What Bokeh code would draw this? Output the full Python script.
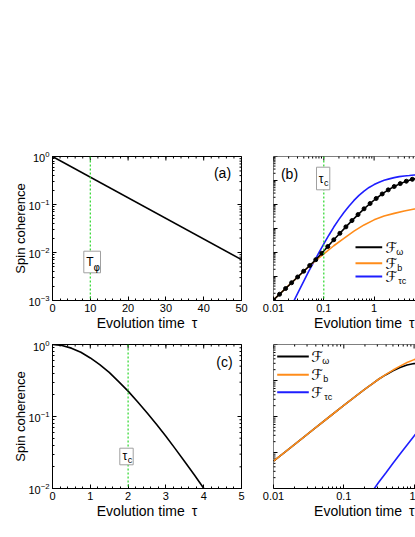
import math
from bokeh.plotting import figure
from bokeh.layouts import column, row
from bokeh.models import (FixedTicker, Span, BoxAnnotation, Label, Title,
                          CustomJSTickFormatter, Range1d)
from bokeh.embed import file_html
from bokeh.resources import INLINE

# ---------------- data ----------------
# (a) exponential decay (straight line on the log axis)
a_tau = [0.0, 50.0]
a_coh = [1.0, 0.0071]
a_T_phi = 10.0

# (c) non-exponential decay
c_tau = [0.0, 0.25, 0.5, 0.75, 1.0, 1.25, 1.5, 1.75, 2.0, 2.25, 2.5, 2.75, 3.0,
         3.25, 3.5, 3.75, 4.0, 4.1]
c_coh = [1.0, 0.97, 0.89, 0.78, 0.65, 0.525, 0.41, 0.305, 0.225, 0.16, 0.113,
         0.078, 0.053, 0.0355, 0.0235, 0.0155, 0.0101, 0.0085]
c_tau_c = 2.0

# (b) three contributions F_omega (black, dotted), F_b (orange), F_tc (blue)
b_tau_c = 0.1
b_omega_tau = [0.0100, 0.0132, 0.0174, 0.0229, 0.0302, 0.0398, 0.0525, 0.0692,
               0.0912, 0.120, 0.158, 0.209, 0.275, 0.363, 0.479, 0.631, 0.832,
               1.10, 1.45, 1.91, 2.51, 3.31, 4.37, 5.75, 7.59]
b_omega_F = [1.05e-6, 1.82e-6, 3.16e-6, 5.50e-6, 9.55e-6, 1.66e-5, 2.88e-5,
             5.01e-5, 9.33e-5, 1.78e-4, 3.39e-4, 6.31e-4, 1.17e-3, 2.14e-3,
             3.80e-3, 6.61e-3, 1.10e-2, 1.78e-2, 2.75e-2, 4.07e-2, 5.62e-2,
             7.41e-2, 9.33e-2, 0.112, 0.129]
b_b_tau = [0.01, 0.0158, 0.0251, 0.0398, 0.0631, 0.1, 0.158, 0.251, 0.398,
           0.631, 1.0, 1.58, 2.51, 3.98, 6.31, 7.94]
b_b_F = [1.05e-6, 2.63e-6, 6.61e-6, 1.62e-5, 3.98e-5, 8.71e-5, 1.91e-4, 3.89e-4,
         7.76e-4, 1.41e-3, 2.29e-3, 3.31e-3, 4.27e-3, 5.37e-3, 6.46e-3, 6.92e-3]
b_tc_tau = [0.0251, 0.0316, 0.0398, 0.0501, 0.0631, 0.0794, 0.1, 0.126, 0.158,
            0.200, 0.251, 0.316, 0.398, 0.501, 0.631, 0.794, 1.0, 1.26, 1.58,
            2.0, 2.51, 3.16, 3.98, 5.01, 6.31, 7.94]
b_tc_F = [9.1e-7, 2.40e-6, 6.31e-6, 1.62e-5, 3.98e-5, 9.55e-5, 2.29e-4, 5.25e-4,
          1.15e-3, 2.40e-3, 4.68e-3, 8.51e-3, 1.48e-2, 2.40e-2, 3.63e-2, 5.13e-2,
          6.76e-2, 8.51e-2, 0.102, 0.117, 0.132, 0.145, 0.155, 0.162, 0.170, 0.174]

# (d)
d_tau = [0.01, 0.0158, 0.0251, 0.0398, 0.0631, 0.1, 0.158, 0.2, 0.251, 0.316,
         0.398, 0.501, 0.631, 0.794, 1.0, 1.12]
d_b_F = [5.75e-4, 1.17e-3, 2.40e-3, 4.90e-3, 1.0e-2, 2.04e-2, 4.07e-2, 5.75e-2,
         7.94e-2, 0.110, 0.148, 0.195, 0.251, 0.316, 0.380, 0.407]
d_omega_F = [5.75e-4, 1.17e-3, 2.40e-3, 4.90e-3, 1.0e-2, 2.04e-2, 4.07e-2, 5.75e-2,
             7.94e-2, 0.110, 0.145, 0.186, 0.229, 0.269, 0.295, 0.302]
d_tc_tau = [0.251, 0.316, 0.398, 0.501, 0.631, 0.794, 1.0, 1.12]
d_tc_F = [8.1e-5, 1.51e-4, 2.75e-4, 5.01e-4, 9.12e-4, 1.62e-3, 2.88e-3, 3.80e-3]

# tick values
a_xticks = [0, 10, 20, 30, 40, 50]
c_xticks = [0, 1, 2, 3, 4, 5]
log_xticks = [0.01, 0.1, 1, 10]
legend_names = ["ω", "b", "τc"]
x_title = "Evolution time\u2002τ"
y_title = "Spin coherence"

# ---------------- layout / style ----------------
FONT = "Liberation Sans"
TICK_PX = "11px"
XTITLE_PX = "14px"
YTITLE_PX = "13px"
PANEL_PX = "14px"
BLACK = "black"
ORANGE = "#ff8c1a"
BLUE = "#1e1eff"
GREEN = "#2ad62a"
BOXGRAY = "#a0a0a0"

# frames in page pixels: left, top, right, bottom
FRAMES = {"a": (52, 156, 241, 300), "b": (273, 156, 415, 300),
          "c": (52, 344, 241, 488), "d": (273, 344, 415, 488)}
DEC_B = 50.3   # px per decade, panel (b)
DEC_D = 70.3   # px per decade, panel (d)
RANGES = {
    "a": ((0, 50), (1e-3, 1.0), False, True),
    "b": ((0.01, 10 ** (-2 + (FRAMES["b"][2] - FRAMES["b"][0]) / DEC_B)), (1e-6, 1.0), True, True),
    "c": ((0, 5), (1e-2, 1.0), False, True),
    "d": ((0.01, 10 ** (-2 + (FRAMES["d"][2] - FRAMES["d"][0]) / DEC_D)), (1e-4, 1.0), True, True),
}


def interp(f, lo, hi, lg):
    if lg:
        return 10 ** (math.log10(lo) + f * (math.log10(hi) - math.log10(lo)))
    return lo + f * (hi - lo)


def data_at(key, px, py):
    l, t, r, b = FRAMES[key]
    xr, yr, xlog, ylog = RANGES[key]
    return (interp((px - l) / (r - l), xr[0], xr[1], xlog),
            interp((b - py) / (b - t), yr[0], yr[1], ylog))


def decade_minors(e0, e1):
    return [k * 10.0 ** e for e in range(e0, e1) for k in range(2, 10)]


def style(ax):
    ax.axis_line_color = BLACK
    ax.axis_line_width = 1
    ax.major_tick_in = 4
    ax.major_tick_out = 0
    ax.minor_tick_in = 2
    ax.minor_tick_out = 0
    ax.major_tick_line_color = BLACK
    ax.minor_tick_line_color = BLACK
    ax.major_label_text_font = FONT
    ax.major_label_text_color = BLACK
    ax.major_label_text_font_size = TICK_PX
    ax.major_label_standoff = 3


def make_fig(key, bl, br, bt, bb):
    l, t, r, b = FRAMES[key]
    xr, yr, xlog, ylog = RANGES[key]
    w = bl + (r - l) + br
    h = bt + (b - t) + bb
    p = figure(width=w, height=h, x_range=Range1d(*xr), y_range=Range1d(*yr),
               x_axis_type="log" if xlog else "linear",
               y_axis_type="log" if ylog else "linear",
               output_backend="svg", toolbar_location=None)
    p.title.visible = False
    p.min_border_left = bl
    p.min_border_right = br
    p.min_border_top = bt
    p.min_border_bottom = bb
    p.outline_line_color = None
    p.grid.visible = False
    p.background_fill_color = "white"
    p.border_fill_color = "white"
    return p


def edge_ticks(p, key, side, majors, minors):
    """Inward tick marks on a frame edge that carries no labels."""
    xr, yr, xlog, ylog = RANGES[key]
    for vals, size in ((majors, 8), (minors, 4)):
        n = len(vals)
        if side == "top":
            xs, ys, ang = vals, [yr[1]] * n, math.pi / 2
        elif side == "right":
            xs, ys, ang = [xr[1]] * n, vals, 0.0
        else:
            xs, ys, ang = [xr[0]] * n, vals, 0.0
        p.scatter(xs, ys, marker="dash", size=size, angle=ang,
                  line_color=BLACK, line_width=1)


def text(p, key, px, py, s, size, font=FONT, color=BLACK, angle=0.0):
    x, y = data_at(key, px, py)
    p.add_layout(Label(x=x, y=y, text=s, text_font=font, text_font_size=size,
                       text_color=color, angle=angle, text_align="center",
                       text_baseline="middle"))


def box(p, key, x0, y0, x1, y1):
    left, top = data_at(key, x0, y0)
    right, bottom = data_at(key, x1, y1)
    p.add_layout(BoxAnnotation(left=left, right=right, top=top, bottom=bottom,
                               fill_color="white", fill_alpha=1.0,
                               line_color=BOXGRAY, line_width=1, line_alpha=1.0))


def legend(p, key, x0, x1, ys, xF, colors):
    for y, c, name in zip(ys, colors, legend_names):
        lx0, ly = data_at(key, x0, y)
        lx1, _ = data_at(key, x1, y)
        p.line([lx0, lx1], [ly, ly], line_color=c, line_width=2)
        text(p, key, xF, y + 0.5, "ℱ", "15px", font="DejaVu Sans")
        text(p, key, xF + 6 + 2.5 * len(name), y + 4.5, name, "9px")


def xtitle(p, align, offset):
    p.add_layout(Title(text=x_title, align=align, offset=offset, standoff=0,
                       vertical_align="top", text_font=FONT,
                       text_font_size=XTITLE_PX, text_font_style="normal",
                       text_color=BLACK), "below")


def ytitle(p):
    ax = p.yaxis[0]
    ax.axis_label = y_title
    ax.axis_label_text_font = FONT
    ax.axis_label_text_font_size = YTITLE_PX
    ax.axis_label_text_font_style = "normal"
    ax.axis_label_text_color = BLACK
    ax.axis_label_standoff = -3


log_fmt = CustomJSTickFormatter(code="return tick.toString();")

# ---------------- panel (a) ----------------
fa = make_fig("a", 52, 16, 156, 40)
fa.outline_line_color = BLACK
a_xmin = list(range(0, 51, 2))
a_ymaj = [1e-3, 1e-2, 1e-1, 1.0]
a_ymin = decade_minors(-3, 0)
fa.xaxis[0].ticker = FixedTicker(ticks=a_xticks, minor_ticks=a_xmin)
fa.yaxis[0].ticker = FixedTicker(ticks=a_ymaj, minor_ticks=a_ymin)
style(fa.xaxis[0]); style(fa.yaxis[0])
ytitle(fa)
xtitle(fa, "center", 0)
edge_ticks(fa, "a", "top", a_xticks, a_xmin)
edge_ticks(fa, "a", "right", a_ymaj, a_ymin)
fa.line(a_tau, a_coh, line_color=BLACK, line_width=1.6)
fa.add_layout(Span(location=a_T_phi, dimension="height", line_color=GREEN,
                   line_dash="2 2", line_width=1.2))
box(fa, "a", 83.3, 250.7, 100, 272.3)
text(fa, "a", 89.5, 261.5, "T", "12px")
text(fa, "a", 96.3, 266.5, "φ", "10px", font="DejaVu Sans")
text(fa, "a", 222, 172, "(a)", PANEL_PX)

# ---------------- panel (b) ----------------
fb = make_fig("b", 16, 0, 156, 40)
b_xmin = decade_minors(-2, 1)
b_ymaj = [10.0 ** e for e in range(-6, 1)]
b_ymin = decade_minors(-6, 0)
fb.xaxis[0].ticker = FixedTicker(ticks=log_xticks, minor_ticks=b_xmin)
fb.xaxis[0].formatter = log_fmt
style(fb.xaxis[0])
fb.yaxis.visible = False
xtitle(fb, "right", 1)
fb.add_layout(Span(location=RANGES["b"][0][0], dimension="height", line_color=BLACK, line_width=1))
fb.add_layout(Span(location=RANGES["b"][1][1], dimension="width", line_color=BLACK, line_width=1))
edge_ticks(fb, "b", "top", log_xticks, b_xmin)
edge_ticks(fb, "b", "left", b_ymaj, b_ymin)
fb.add_layout(Span(location=b_tau_c, dimension="height", line_color=GREEN,
                   line_dash="2 2", line_width=1.2))
fb.line(b_tc_tau, b_tc_F, line_color=BLUE, line_width=1.6)
fb.line(b_b_tau, b_b_F, line_color=ORANGE, line_width=1.6)
fb.line(b_omega_tau, b_omega_F, line_color=BLACK, line_width=1.6)
fb.scatter(b_omega_tau, b_omega_F, marker="circle", size=4, fill_color=BLACK,
           line_color=BLACK)
box(fb, "b", 316, 166.7, 329.3, 189.3)
text(fb, "b", 320.6, 178.5, "τ", "12px")
text(fb, "b", 325.8, 182.5, "c", "9px")
text(fb, "b", 289, 173, "(b)", PANEL_PX)
legend(fb, "b", 355, 381.7, [246.7, 262.7, 276.0], 390.8, [BLACK, ORANGE, BLUE])

# ---------------- panel (c) ----------------
fc = make_fig("c", 52, 16, 4, 40)
fc.outline_line_color = BLACK
c_xmin = [i / 5 for i in range(0, 26)]
c_ymaj = [1e-2, 1e-1, 1.0]
c_ymin = decade_minors(-2, 0)
fc.xaxis[0].ticker = FixedTicker(ticks=c_xticks, minor_ticks=c_xmin)
fc.yaxis[0].ticker = FixedTicker(ticks=c_ymaj, minor_ticks=c_ymin)
style(fc.xaxis[0]); style(fc.yaxis[0])
ytitle(fc)
xtitle(fc, "center", 0)
edge_ticks(fc, "c", "top", c_xticks, c_xmin)
edge_ticks(fc, "c", "right", c_ymaj, c_ymin)
fc.line(c_tau, c_coh, line_color=BLACK, line_width=1.6)
fc.add_layout(Span(location=c_tau_c, dimension="height", line_color=GREEN,
                   line_dash="2 2", line_width=1.2))
box(fc, "c", 119.3, 447.7, 132.7, 464.3)
text(fc, "c", 124.3, 455.5, "τ", "12px")
text(fc, "c", 129.6, 459, "c", "9px")
text(fc, "c", 224, 361, "(c)", PANEL_PX)

# ---------------- panel (d) ----------------
fd = make_fig("d", 16, 0, 4, 40)
d_ymaj = [10.0 ** e for e in range(-4, 1)]
d_ymin = decade_minors(-4, 0)
fd.xaxis[0].ticker = FixedTicker(ticks=log_xticks, minor_ticks=b_xmin)
fd.xaxis[0].formatter = log_fmt
style(fd.xaxis[0])
fd.yaxis.visible = False
xtitle(fd, "right", 1)
fd.add_layout(Span(location=RANGES["d"][0][0], dimension="height", line_color=BLACK, line_width=1))
fd.add_layout(Span(location=RANGES["d"][1][1], dimension="width", line_color=BLACK, line_width=1))
edge_ticks(fd, "d", "top", log_xticks, b_xmin)
edge_ticks(fd, "d", "left", d_ymaj, d_ymin)
fd.line(d_tau, d_omega_F, line_color=BLACK, line_width=1.6)
fd.line(d_tau, d_b_F, line_color=ORANGE, line_width=1.6)
fd.line(d_tc_tau, d_tc_F, line_color=BLUE, line_width=1.6)
legend(fd, "d", 276.7, 308.3, [356.0, 374.3, 391.7], 316.7, [BLACK, ORANGE, BLUE])

layout = column(row(fa, fb, spacing=0), row(fc, fd, spacing=0), spacing=0)
open("out.html", "w").write(file_html(layout, INLINE))
